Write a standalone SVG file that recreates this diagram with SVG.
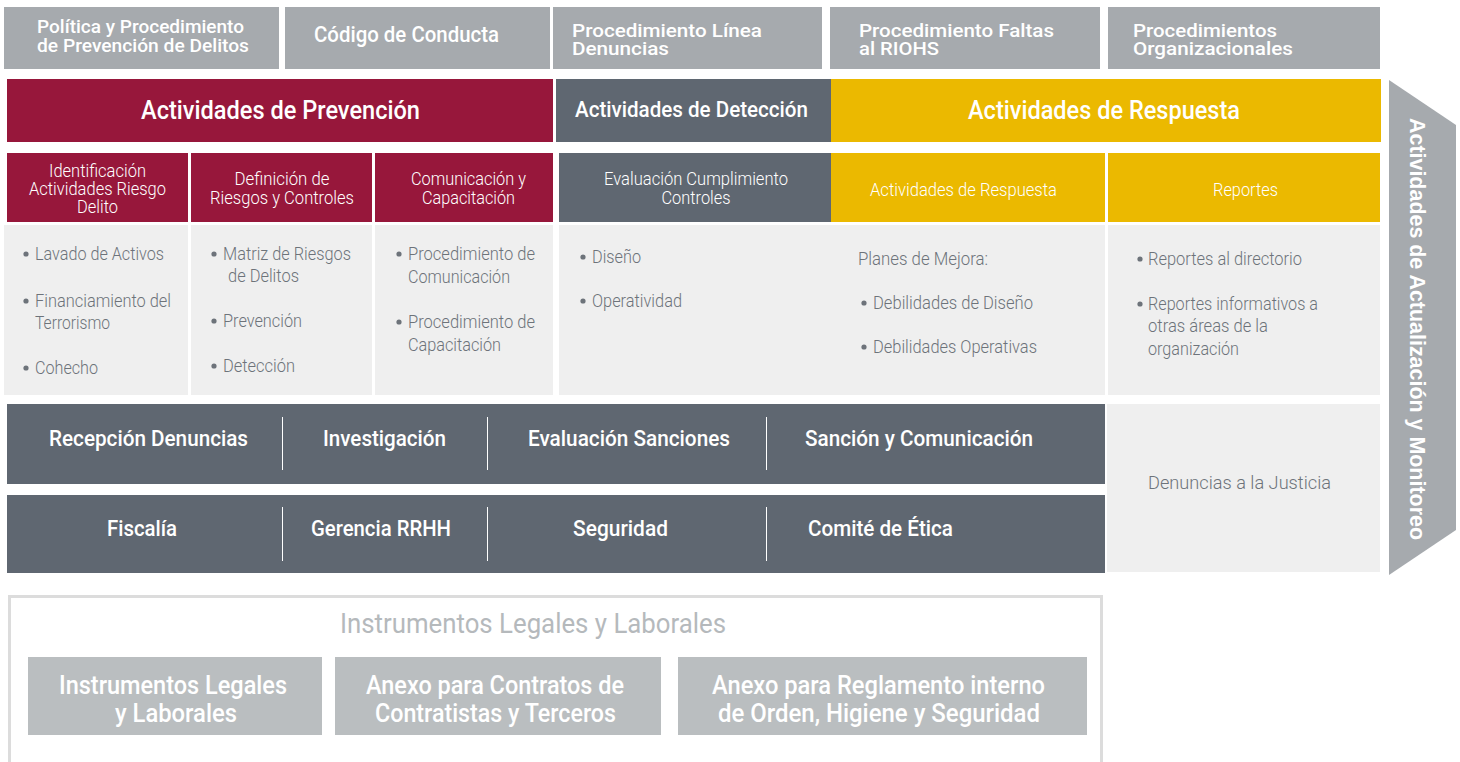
<svg xmlns="http://www.w3.org/2000/svg" width="1460" height="762" viewBox="0 0 1460 762">
<style>
text{font-family:Roboto,"Liberation Sans",Arial,sans-serif}
.top{fill:#a6aaae}
.red{fill:#97173b}
.dk{fill:#5f6771}
.yl{fill:#ebb900}
.lt{fill:#efefef}
.ib{fill:#babec0}
.tw{fill:#ffffff;font-weight:500}
.th{fill:#ffffff;font-weight:300;font-size:18px}
.tc{fill:#6d737a;font-weight:300;font-size:18px}
.dot{fill:#6d737a}
.div{stroke:#ffffff;stroke-width:1}
</style>

<g id="top-row">
<g id="n-politica"><rect class="top" x="4" y="7" width="275" height="62"/>
<text class="tw" font-size="19" x="37" y="33" textLength="207" lengthAdjust="spacingAndGlyphs">Política y Procedimiento</text>
<text class="tw" font-size="19" x="37" y="52" textLength="212" lengthAdjust="spacingAndGlyphs">de Prevención de Delitos</text></g>
<g id="n-codigo"><rect class="top" x="285" y="7" width="265" height="62"/>
<text class="tw" font-size="22" x="314" y="42" textLength="185" lengthAdjust="spacingAndGlyphs">Código de Conducta</text></g>
<g id="n-linea"><rect class="top" x="553" y="7" width="269" height="62"/>
<text class="tw" font-size="19" x="572" y="37" textLength="190" lengthAdjust="spacingAndGlyphs">Procedimiento Línea</text>
<text class="tw" font-size="19" x="572" y="55" textLength="97" lengthAdjust="spacingAndGlyphs">Denuncias</text></g>
<g id="n-faltas"><rect class="top" x="830" y="7" width="270" height="62"/>
<text class="tw" font-size="19" x="859" y="37" textLength="195" lengthAdjust="spacingAndGlyphs">Procedimiento Faltas</text>
<text class="tw" font-size="19" x="859" y="55" textLength="80" lengthAdjust="spacingAndGlyphs">al RIOHS</text></g>
<g id="n-organiz"><rect class="top" x="1108" y="7" width="272" height="62"/>
<text class="tw" font-size="19" x="1133" y="37" textLength="144" lengthAdjust="spacingAndGlyphs">Procedimientos</text>
<text class="tw" font-size="19" x="1133" y="55" textLength="160" lengthAdjust="spacingAndGlyphs">Organizacionales</text></g>
</g>

<g id="headers">
<g id="n-prevencion"><rect class="red" x="7" y="79" width="546" height="63"/>
<text class="tw" font-size="26" x="280.5" y="119" text-anchor="middle" textLength="279" lengthAdjust="spacingAndGlyphs">Actividades de Prevención</text></g>
<g id="n-deteccion"><rect class="dk" x="556" y="79" width="275" height="63"/>
<text class="tw" font-size="22" x="691.5" y="117" text-anchor="middle" textLength="233" lengthAdjust="spacingAndGlyphs">Actividades de Detección</text></g>
<g id="n-respuesta"><rect class="yl" x="831" y="79" width="550" height="63"/>
<text class="tw" font-size="26" x="1104" y="119" text-anchor="middle" textLength="272" lengthAdjust="spacingAndGlyphs">Actividades de Respuesta</text></g>
</g>

<g id="n-monitoreo">
<polygon points="1389,80 1456,125 1456,530 1389,575" fill="#a6aaae"/>
<text transform="translate(1410,329) rotate(90)" x="0" y="0" text-anchor="middle" font-size="22" font-weight="bold" fill="#ffffff" style="font-family:'Liberation Sans',Arial,sans-serif" textLength="422" lengthAdjust="spacingAndGlyphs">Actividades de Actualización y Monitoreo</text>
</g>

<g id="subheaders">
<g id="n-identificacion"><rect class="red" x="7" y="153" width="181" height="69"/>
<text class="th" x="97.5" y="177" text-anchor="middle" textLength="97" lengthAdjust="spacingAndGlyphs">Identificación</text>
<text class="th" x="97.5" y="195" text-anchor="middle" textLength="137" lengthAdjust="spacingAndGlyphs">Actividades Riesgo</text>
<text class="th" x="97.5" y="213" text-anchor="middle" textLength="41" lengthAdjust="spacingAndGlyphs">Delito</text></g>
<g id="n-definicion"><rect class="red" x="191" y="153" width="181" height="69"/>
<text class="th" x="282" y="185" text-anchor="middle" textLength="95" lengthAdjust="spacingAndGlyphs">Definición de</text>
<text class="th" x="282" y="204" text-anchor="middle" textLength="144" lengthAdjust="spacingAndGlyphs">Riesgos y Controles</text></g>
<g id="n-comunicacion"><rect class="red" x="375" y="153" width="178" height="69"/>
<text class="th" x="468.5" y="185" text-anchor="middle" textLength="115" lengthAdjust="spacingAndGlyphs">Comunicación y</text>
<text class="th" x="468.5" y="204" text-anchor="middle" textLength="93" lengthAdjust="spacingAndGlyphs">Capacitación</text></g>
<g id="n-evaluacion"><rect class="dk" x="559" y="153" width="272" height="69"/>
<text class="th" x="696" y="185" text-anchor="middle" textLength="184" lengthAdjust="spacingAndGlyphs">Evaluación Cumplimiento</text>
<text class="th" x="696" y="204" text-anchor="middle" textLength="69" lengthAdjust="spacingAndGlyphs">Controles</text></g>
<g id="n-act-respuesta"><rect class="yl" x="831" y="153" width="274" height="69"/>
<text class="th" x="963.5" y="196" text-anchor="middle" textLength="187" lengthAdjust="spacingAndGlyphs">Actividades de Respuesta</text></g>
<g id="n-reportes"><rect class="yl" x="1108" y="153" width="272" height="69"/>
<text class="th" x="1245.5" y="196" text-anchor="middle" textLength="65" lengthAdjust="spacingAndGlyphs">Reportes</text></g>
</g>

<g id="contents">
<g id="c-identificacion"><rect class="lt" x="4" y="225" width="184" height="170"/>
<circle class="dot" cx="26" cy="254" r="2.6"/><text class="tc" x="35" y="260" textLength="129" lengthAdjust="spacingAndGlyphs">Lavado de Activos</text>
<circle class="dot" cx="26" cy="301" r="2.6"/><text class="tc" x="35" y="307" textLength="136" lengthAdjust="spacingAndGlyphs">Financiamiento del</text>
<text class="tc" x="35" y="329" textLength="75" lengthAdjust="spacingAndGlyphs">Terrorismo</text>
<circle class="dot" cx="26" cy="368" r="2.6"/><text class="tc" x="35" y="374" textLength="63" lengthAdjust="spacingAndGlyphs">Cohecho</text></g>
<g id="c-definicion"><rect class="lt" x="191" y="225" width="181" height="170"/>
<circle class="dot" cx="214" cy="254" r="2.6"/><text class="tc" x="223" y="260" textLength="128" lengthAdjust="spacingAndGlyphs">Matriz de Riesgos</text>
<text class="tc" x="228" y="282" textLength="71" lengthAdjust="spacingAndGlyphs">de Delitos</text>
<circle class="dot" cx="214" cy="321" r="2.6"/><text class="tc" x="223" y="327" textLength="79" lengthAdjust="spacingAndGlyphs">Prevención</text>
<circle class="dot" cx="214" cy="366" r="2.6"/><text class="tc" x="223" y="372" textLength="72" lengthAdjust="spacingAndGlyphs">Detección</text></g>
<g id="c-comunicacion"><rect class="lt" x="375" y="225" width="178" height="170"/>
<circle class="dot" cx="399" cy="254" r="2.6"/><text class="tc" x="408" y="260" textLength="127" lengthAdjust="spacingAndGlyphs">Procedimiento de</text>
<text class="tc" x="408" y="283" textLength="102" lengthAdjust="spacingAndGlyphs">Comunicación</text>
<circle class="dot" cx="399" cy="322" r="2.6"/><text class="tc" x="408" y="328" textLength="127" lengthAdjust="spacingAndGlyphs">Procedimiento de</text>
<text class="tc" x="408" y="351" textLength="93" lengthAdjust="spacingAndGlyphs">Capacitación</text></g>
<g id="c-deteccion-respuesta"><rect class="lt" x="559" y="225" width="546" height="170"/>
<circle class="dot" cx="583" cy="257" r="2.6"/><text class="tc" x="592" y="263" textLength="49" lengthAdjust="spacingAndGlyphs">Diseño</text>
<circle class="dot" cx="583" cy="301" r="2.6"/><text class="tc" x="592" y="307" textLength="90" lengthAdjust="spacingAndGlyphs">Operatividad</text>
<text class="tc" x="858" y="265" textLength="130" lengthAdjust="spacingAndGlyphs">Planes de Mejora:</text>
<circle class="dot" cx="864" cy="303" r="2.6"/><text class="tc" x="873" y="309" textLength="160" lengthAdjust="spacingAndGlyphs">Debilidades de Diseño</text>
<circle class="dot" cx="864" cy="347" r="2.6"/><text class="tc" x="873" y="353" textLength="164" lengthAdjust="spacingAndGlyphs">Debilidades Operativas</text></g>
<g id="c-reportes"><rect class="lt" x="1108" y="225" width="272" height="170"/>
<circle class="dot" cx="1140" cy="259" r="2.6"/><text class="tc" x="1148" y="265" textLength="154" lengthAdjust="spacingAndGlyphs">Reportes al directorio</text>
<circle class="dot" cx="1140" cy="304" r="2.6"/><text class="tc" x="1148" y="310" textLength="170" lengthAdjust="spacingAndGlyphs">Reportes informativos a</text>
<text class="tc" x="1148" y="332" textLength="120" lengthAdjust="spacingAndGlyphs">otras áreas de la</text>
<text class="tc" x="1148" y="355" textLength="91" lengthAdjust="spacingAndGlyphs">organización</text></g>
</g>

<g id="process-rows">
<g id="n-proceso"><rect class="dk" x="7" y="404" width="1098" height="80"/>
<text class="tw" font-size="22" x="148.5" y="446" text-anchor="middle" textLength="199" lengthAdjust="spacingAndGlyphs">Recepción Denuncias</text>
<text class="tw" font-size="22" x="384.5" y="446" text-anchor="middle" textLength="123" lengthAdjust="spacingAndGlyphs">Investigación</text>
<text class="tw" font-size="22" x="629" y="446" text-anchor="middle" textLength="202" lengthAdjust="spacingAndGlyphs">Evaluación Sanciones</text>
<text class="tw" font-size="22" x="919" y="446" text-anchor="middle" textLength="228" lengthAdjust="spacingAndGlyphs">Sanción y Comunicación</text></g>
<g id="n-areas"><rect class="dk" x="7" y="495" width="1098" height="78"/>
<text class="tw" font-size="22" x="142" y="536" text-anchor="middle" textLength="70" lengthAdjust="spacingAndGlyphs">Fiscalía</text>
<text class="tw" font-size="22" x="381" y="536" text-anchor="middle" textLength="140" lengthAdjust="spacingAndGlyphs">Gerencia RRHH</text>
<text class="tw" font-size="22" x="620.5" y="536" text-anchor="middle" textLength="95" lengthAdjust="spacingAndGlyphs">Seguridad</text>
<text class="tw" font-size="22" x="880.5" y="536" text-anchor="middle" textLength="145" lengthAdjust="spacingAndGlyphs">Comité de Ética</text></g>
<g id="n-justicia"><rect class="lt" x="1107" y="404" width="273" height="168"/>
<text class="tc" x="1239.5" y="489" text-anchor="middle" textLength="183" lengthAdjust="spacingAndGlyphs">Denuncias a la Justicia</text></g>
</g>

<g id="connectors">
<line class="div" x1="282.5" y1="417" x2="282.5" y2="470"/>
<line class="div" x1="487.5" y1="417" x2="487.5" y2="470"/>
<line class="div" x1="766.5" y1="417" x2="766.5" y2="470"/>
<line class="div" x1="282.5" y1="507" x2="282.5" y2="561"/>
<line class="div" x1="487.5" y1="507" x2="487.5" y2="561"/>
<line class="div" x1="766.5" y1="507" x2="766.5" y2="561"/>
</g>

<g id="instrumentos">
<path d="M9.5,764 V596.5 H1101.5 V764" fill="none" stroke="#dcdcdc" stroke-width="3"/>
<text x="533" y="633" text-anchor="middle" font-size="28" fill="#b5b9bc" textLength="386" lengthAdjust="spacingAndGlyphs">Instrumentos Legales y Laborales</text>
<g id="n-inst-legales"><rect class="ib" x="28" y="657" width="294" height="78"/>
<text class="tw" font-size="25" x="173" y="694" text-anchor="middle" textLength="228" lengthAdjust="spacingAndGlyphs">Instrumentos Legales</text>
<text class="tw" font-size="25" x="176" y="722" text-anchor="middle" textLength="122" lengthAdjust="spacingAndGlyphs">y Laborales</text></g>
<g id="n-anexo-contratos"><rect class="ib" x="335" y="657" width="326" height="78"/>
<text class="tw" font-size="25" x="495" y="694" text-anchor="middle" textLength="258" lengthAdjust="spacingAndGlyphs">Anexo para Contratos de</text>
<text class="tw" font-size="25" x="495.5" y="722" text-anchor="middle" textLength="241" lengthAdjust="spacingAndGlyphs">Contratistas y Terceros</text></g>
<g id="n-anexo-reglamento"><rect class="ib" x="678" y="657" width="409" height="78"/>
<text class="tw" font-size="25" x="878.5" y="694" text-anchor="middle" textLength="333" lengthAdjust="spacingAndGlyphs">Anexo para Reglamento interno</text>
<text class="tw" font-size="25" x="879" y="722" text-anchor="middle" textLength="322" lengthAdjust="spacingAndGlyphs">de Orden, Higiene y Seguridad</text></g>
</g>
</svg>
